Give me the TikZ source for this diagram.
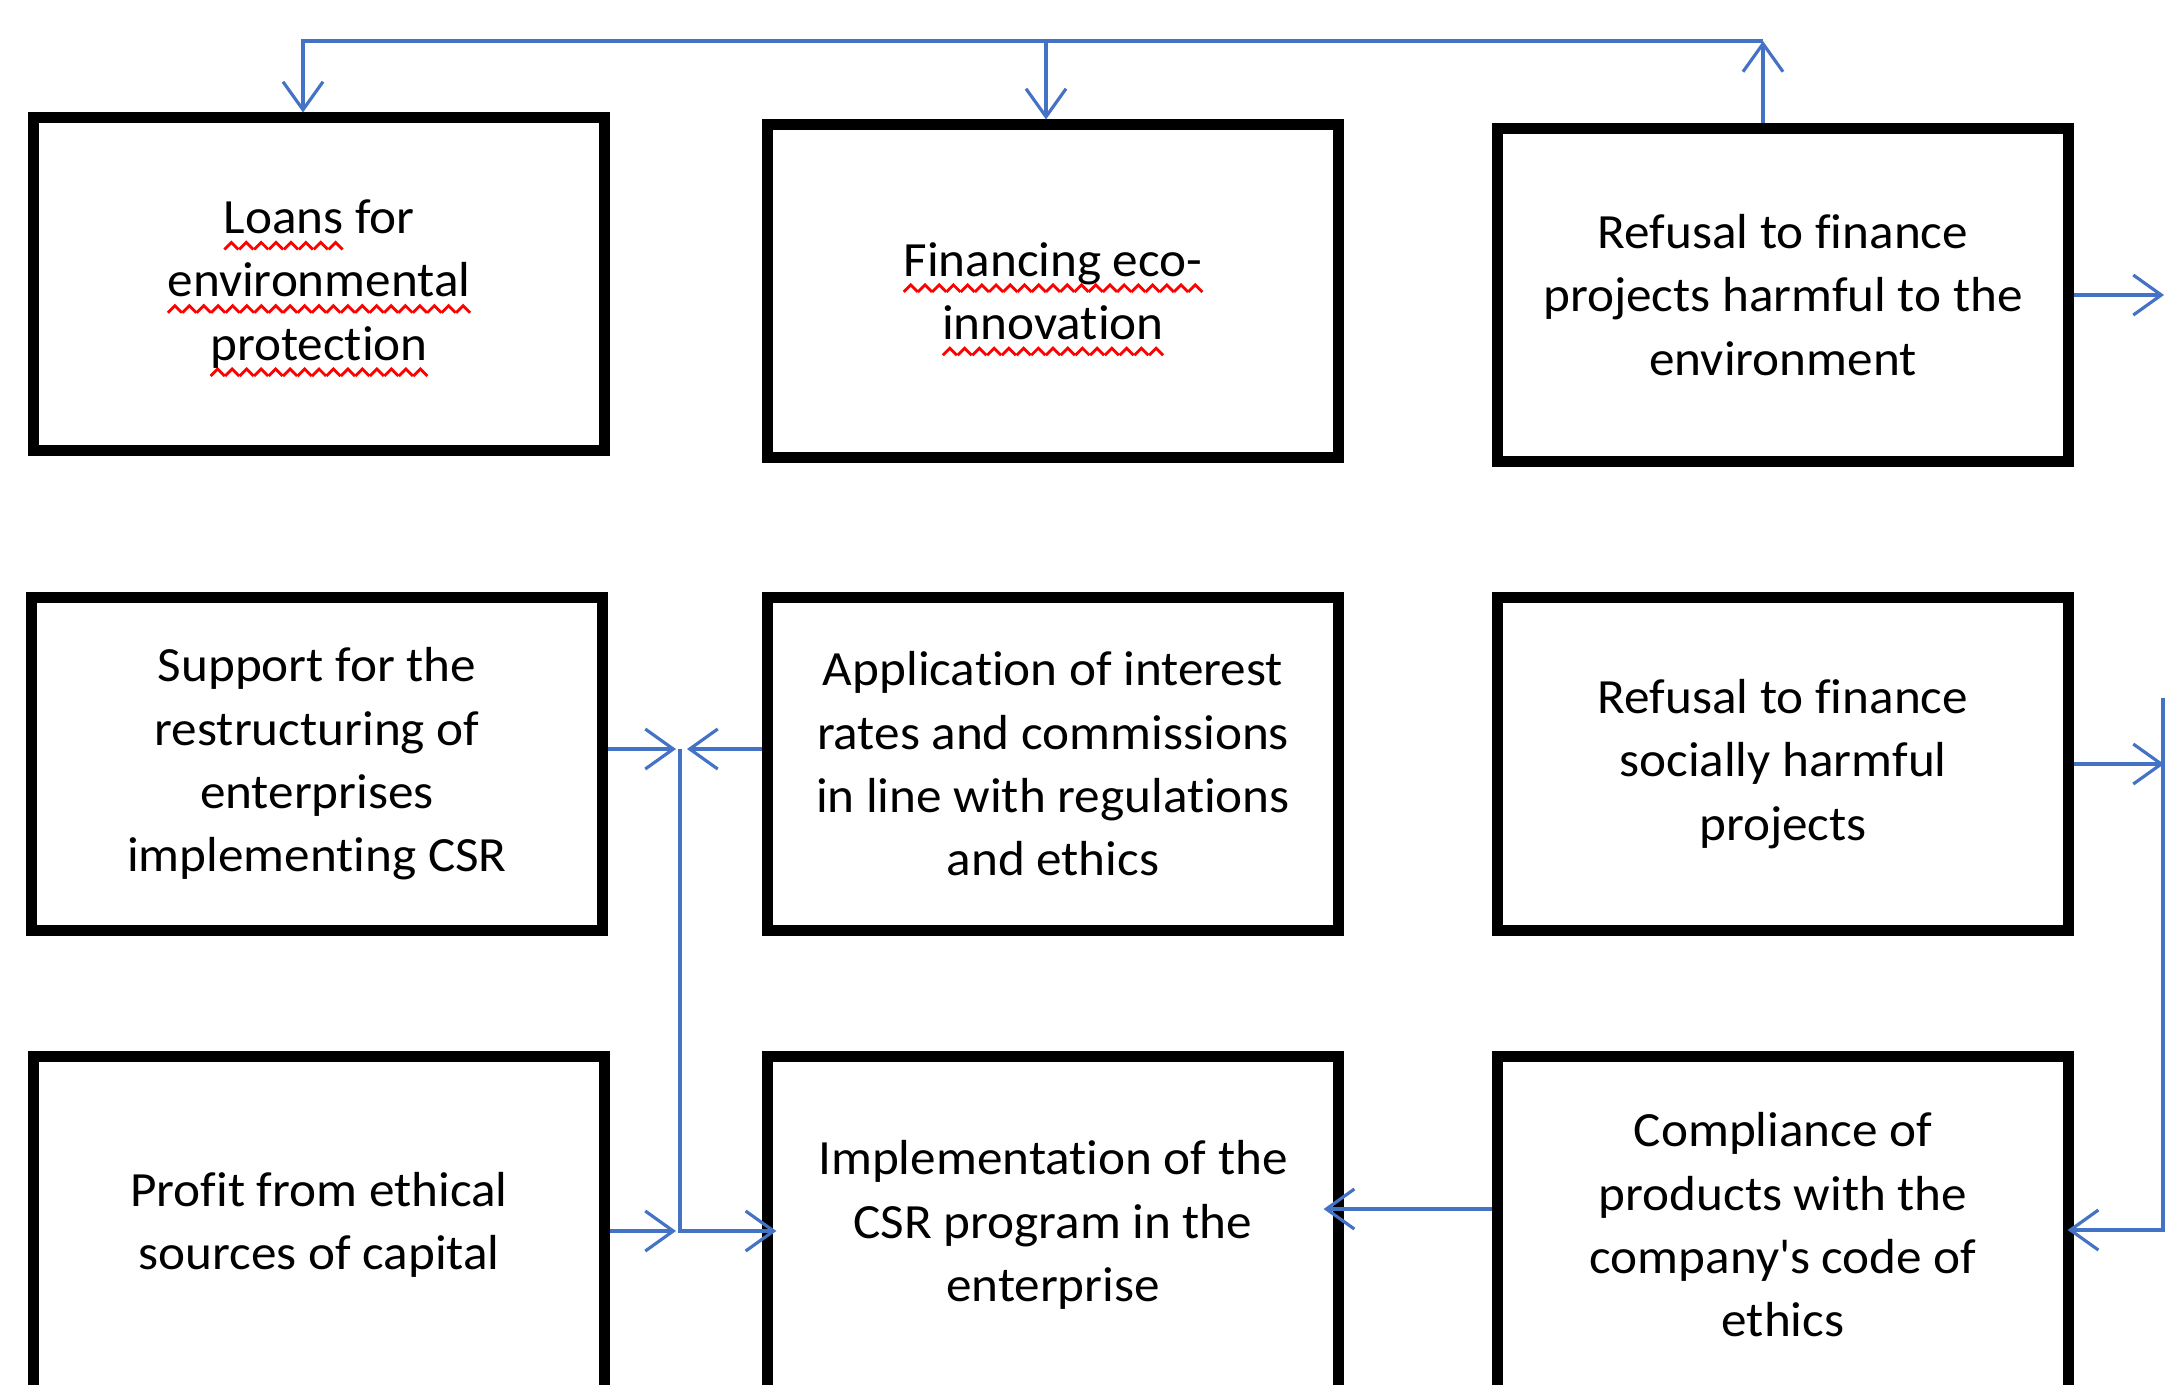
\documentclass[tikz,border=0pt]{standalone}
\usepackage{fontspec}
\setmainfont{Carlito}[FakeStretch=1.04, Ligatures=NoCommon]
\usepackage{xcolor}
\usepackage{tikz}
\usetikzlibrary{arrows.meta}

\definecolor{linkblue}{RGB}{68,114,196}

% red spell-check wave under a word
\newsavebox\wavebox
\newsavebox\spellword
\sbox\wavebox{\begin{tikzpicture}\useasboundingbox (0,0) rectangle (4pt,2pt);
  \draw[red, line width=0.8pt] (0,0) -- (2pt,2pt) -- (4pt,0);\end{tikzpicture}}
\newcommand\spellmark[1]{\sbox\spellword{#1}%
  \rlap{\smash{\raisebox{-4.5pt}{\hbox to \wd\spellword{\xleaders\copy\wavebox\hfill}}}}\usebox\spellword}

\begin{document}
\begin{tikzpicture}[x=0.01cm, y=-0.01cm,
  box/.style={rectangle, draw, line width=3.1pt, minimum width=5.7cm, minimum height=3.32cm,
              align=center, font=\fontsize{14}{18}\selectfont},
  lowbox/.style={box, minimum height=3.36cm},
  link/.style={draw=linkblue, line width=0.9pt, -{Straight Barb[length=0.28cm, width=0.4cm]}}]

\useasboundingbox (0,0) rectangle (2167,1384);

\node[box] (loans) at (319,284) {\spellmark{Loans} for\\ \spellmark{environmental}\\ \spellmark{protection}};
\node[box] (ecoinno) at (1053,291) {\spellmark{Financing eco-}\\ \spellmark{innovation}};
\node[box] (refenv) at (1783,295) {Refusal to finance\\ projects harmful to the\\ environment};
\node[box] (support) at (317,764) {Support for the\\ restructuring of\\ enterprises\\ implementing CSR};
\node[box] (interest) at (1053,764) {Application of interest\\ rates and commissions\\ in line with regulations\\ and ethics};
\node[box] (refsoc) at (1783,764) {Refusal to finance\\ socially harmful\\ projects};
\node[lowbox] (profit) at (319,1225) {Profit from ethical\\ sources of capital};
\node[lowbox] (csr) at (1053,1225) {Implementation of the\\ CSR program in the\\ enterprise};
\node[lowbox] (comply) at (1783,1225) {Compliance of\\ products with the\\ company\textquotesingle s code of\\ ethics};

\coordinate (topL) at (303,41);
\coordinate (topM) at (1046,41);
\coordinate (topR) at (1763,41);
\coordinate (edgeR) at (2164,0);
\coordinate (rtop) at (2163,698);
\coordinate (rbot) at (2163,1230);
\coordinate (mtop) at (680,749);
\coordinate (mbot) at (680,1231);
\coordinate (backY) at (1420,1209);

\draw[link] (refenv.north -| topR) -- (topR);
\draw[link] (topR) -- (topL) -- (loans.north -| topL);
\draw[link] (topM) -- (ecoinno.north -| topM);

\draw[link] (refenv.east) -- (refenv.east -| edgeR);
\draw[link] (refsoc.east) -- (refsoc.east -| edgeR);
\draw[link, shorten >=-0.06cm] (rtop) -- (rbot) -- (rbot -| comply.east);

\draw[link] (support.east |- mtop) -- ([xshift=-0.04cm]mtop);
\draw[link] (interest.west |- mtop) -- ([xshift=0.07cm]mtop);
\draw[link, shorten >=-0.14cm] (mtop) -- (mbot) -- (csr.west |- mbot);
\draw[link] (profit.east |- mbot) -- ([xshift=-0.04cm]mbot);
\draw[link, shorten >=-0.2cm] (comply.west |- backY) -- (csr.east |- backY);
\end{tikzpicture}
\end{document}
